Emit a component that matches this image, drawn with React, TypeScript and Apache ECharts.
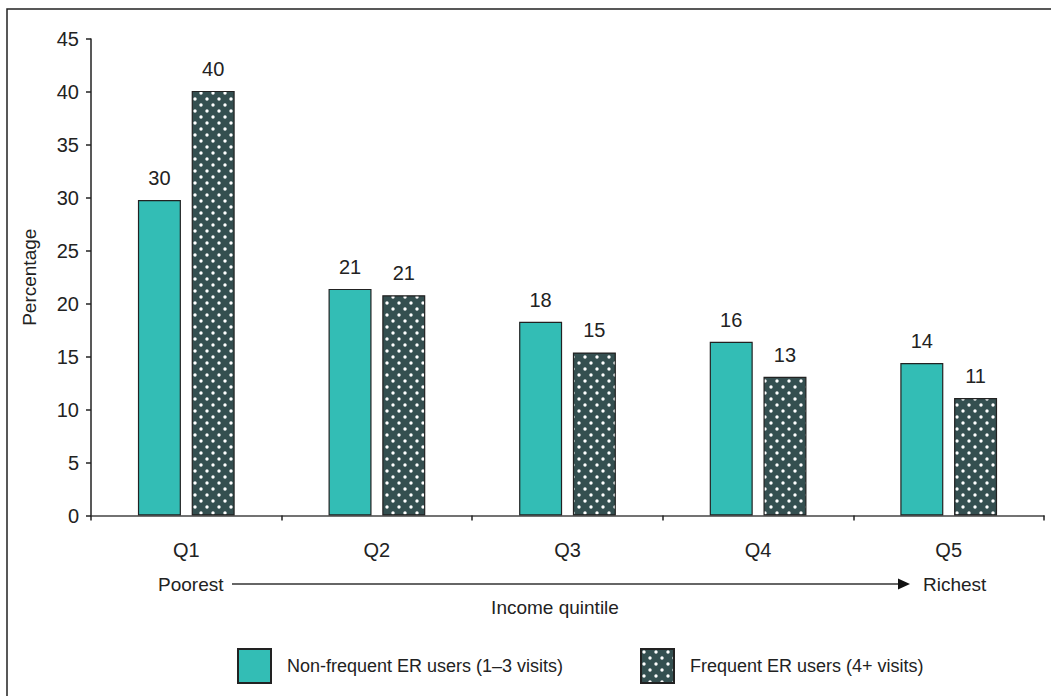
import React, { useEffect, useRef } from "react";
import * as echarts from "echarts";

const categories = ["Q1", "Q2", "Q3", "Q4", "Q5"];
const nonFrequent = [29.8, 21.4, 18.3, 16.4, 14.4];
const frequent = [40.1, 20.8, 15.4, 13.1, 11.1];
const seriesNames = ["Non-frequent ER users (1–3 visits)", "Frequent ER users (4+ visits)"];
const yTicks = { min: 0, max: 45, interval: 5 };

const FONT = "'Liberation Sans', Arial, sans-serif";
const TEAL = "#33bdb5";
const SLATE = "#344f50";
const INK = "#222";

// 12x12 tile: dark slate with two offset white dots, giving a diagonal dot grid
function makeDotPattern(): HTMLCanvasElement {
  const c = document.createElement("canvas");
  c.width = 12;
  c.height = 12;
  const ctx = c.getContext("2d")!;
  ctx.fillStyle = SLATE;
  ctx.fillRect(0, 0, 12, 12);
  ctx.fillStyle = "#ffffff";
  for (const [x, y] of [[3, 3], [9, 9]]) {
    ctx.beginPath();
    ctx.arc(x, y, 1.7, 0, Math.PI * 2);
    ctx.fill();
  }
  return c;
}

export default function App() {
  const ref = useRef<HTMLDivElement>(null);

  useEffect(() => {
    if (!ref.current) return;
    const chart = echarts.init(ref.current, null, { renderer: "svg" });
    const dots = { image: makeDotPattern(), repeat: "repeat", imageWidth: 12, imageHeight: 12 } as any;
    const labelStyle = {
      show: true,
      position: "top" as const,
      distance: 12,
      fontFamily: FONT,
      fontSize: 20,
      color: INK,
      formatter: (p: any) => String(Math.round(p.value)),
    };
    const legendText = { fontSize: 18, color: INK, fontFamily: FONT, padding: [0, 0, 0, 11] };

    chart.setOption({
      animation: false,
      textStyle: { fontFamily: FONT },
      grid: { left: 91, top: 39, width: 953, height: 476.5 },
      xAxis: {
        type: "category",
        data: categories,
        axisLine: { lineStyle: { color: "#444", width: 1.5 } },
        axisTick: { show: true, length: 5, lineStyle: { color: INK, width: 1.5 } },
        axisLabel: { margin: 24, fontSize: 20, color: INK, fontFamily: FONT },
      },
      yAxis: {
        type: "value",
        min: yTicks.min,
        max: yTicks.max,
        interval: yTicks.interval,
        name: "Percentage",
        nameLocation: "middle",
        nameGap: 52,
        nameTextStyle: { fontSize: 19, color: INK, fontFamily: FONT },
        axisLine: { show: true, lineStyle: { color: INK, width: 1.5 } },
        axisTick: { show: true, length: 5, lineStyle: { color: INK, width: 1.5 } },
        axisLabel: { margin: 12, fontSize: 20, color: INK, fontFamily: FONT },
        splitLine: { show: false },
      },
      legend: [
        {
          left: 237,
          top: 648,
          padding: 0,
          itemWidth: 33,
          itemHeight: 34,
          icon: "rect",
          textStyle: legendText,
          data: [seriesNames[0]],
        },
        {
          left: 640,
          top: 648,
          padding: 0,
          itemWidth: 33,
          itemHeight: 34,
          icon: "rect",
          textStyle: legendText,
          data: [seriesNames[1]],
        },
      ],
      series: [
        {
          name: seriesNames[0],
          type: "bar",
          data: nonFrequent,
          barWidth: 43,
          barGap: "25%",
          itemStyle: { color: TEAL, borderColor: INK, borderWidth: 1.2 },
          label: labelStyle,
        },
        {
          name: seriesNames[1],
          type: "bar",
          data: frequent,
          barWidth: 43,
          itemStyle: { color: dots, borderColor: INK, borderWidth: 1.2 },
          label: labelStyle,
        },
      ],
      graphic: [
        {
          type: "rect",
          shape: { x: 7, y: 9, width: 1060, height: 700 },
          style: { fill: "none", stroke: INK, lineWidth: 1.5 },
          silent: true,
        },
        {
          type: "text",
          x: 158,
          y: 584,
          style: { text: "Poorest", fill: INK, font: `19px ${FONT}`, verticalAlign: "middle" },
        },
        {
          type: "line",
          shape: { x1: 232, y1: 584, x2: 900, y2: 584 },
          style: { stroke: "#333", lineWidth: 1.5 },
        },
        {
          type: "polygon",
          shape: { points: [[898, 578.5], [910, 584], [898, 589.5]] },
          style: { fill: "#111" },
        },
        {
          type: "text",
          x: 923,
          y: 584,
          style: { text: "Richest", fill: INK, font: `19px ${FONT}`, verticalAlign: "middle" },
        },
        {
          type: "text",
          x: 555,
          y: 607,
          style: {
            text: "Income quintile",
            fill: INK,
            font: `19px ${FONT}`,
            align: "center",
            verticalAlign: "middle",
          },
        },
      ],
    });

    return () => chart.dispose();
  }, []);

  return (
    <div
      ref={ref}
      style={{ position: "absolute", left: 0, top: 0, width: 1051, height: 696, background: "#fff" }}
    />
  );
}
